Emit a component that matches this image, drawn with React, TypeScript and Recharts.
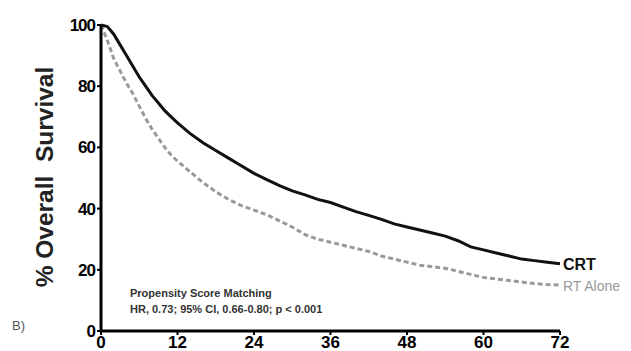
import React from 'react';
import { LineChart, Line, XAxis, YAxis, Customized } from 'recharts';

const months = [0, 1, 2, 3, 4, 5, 6, 7, 8, 9, 10, 11, 12, 14, 16, 18, 20, 22, 24, 26, 28, 30, 32, 34, 36, 38, 40, 42, 44, 46, 48, 50, 52, 54, 56, 58, 60, 62, 64, 66, 68, 70, 72];
const crt = [100, 99.5, 97, 93.5, 90, 86.5, 83, 80, 77, 74.5, 72, 70, 68, 64.5, 61.5, 59, 56.5, 54, 51.5, 49.5, 47.5, 45.8, 44.5, 43, 42, 40.5, 39, 37.8, 36.5, 35, 34, 33, 32, 31, 29.5, 27.5, 26.5, 25.5, 24.5, 23.5, 23, 22.5, 22];
const rtAlone = [100, 95, 89, 85, 81, 77.5, 73.5, 69.5, 66, 63, 60, 57.5, 55.5, 52, 48.5, 45.5, 43, 41, 39.5, 38, 36, 34, 31.5, 30, 29, 28, 27, 26, 24.5, 23.5, 22.5, 21.5, 21, 20.5, 19.5, 18.5, 17.5, 17, 16.5, 16, 15.5, 15.2, 15];
const xTicks = [0, 12, 24, 36, 48, 60, 72];
const yTicks = [0, 20, 40, 60, 80, 100];

const data = months.map((m, i) => ({ m, crt: crt[i], rt: rtAlone[i] }));

const font = '"Liberation Sans", Arial, sans-serif';

const endLabel = (text: string, color: string, size: number, weight: number) => (props: any) => {
  const { x, y, index } = props;
  if (index !== months.length - 1) return null;
  return (
    <text x={x + 3} y={y + 6} fill={color} fontSize={size} fontWeight={weight} fontFamily={font}>
      {text}
    </text>
  );
};

export default function App() {
  return (
    <div style={{ position: 'absolute', left: 0, top: 0, width: 631, height: 351, background: '#fff' }}>
      <LineChart width={631} height={351} data={data} margin={{ top: 25, right: 71, bottom: 0, left: 0 }}>
        <XAxis
          dataKey="m"
          type="number"
          domain={[0, 72]}
          ticks={xTicks}
          height={20}
          stroke="#000"
          axisLine={{ strokeWidth: 3 }}
          tickLine={{ strokeWidth: 2 }}
          tickSize={4}
          tick={{ fill: '#000', fontSize: 17, fontWeight: 700, fontFamily: font }}
          tickMargin={1}
        />
        <YAxis
          type="number"
          domain={[0, 100]}
          ticks={yTicks}
          width={101}
          stroke="#000"
          axisLine={{ strokeWidth: 3 }}
          tickLine={{ strokeWidth: 2 }}
          tickSize={4}
          tickMargin={2}
          tick={{ fill: '#000', fontSize: 17, fontWeight: 700, fontFamily: font, letterSpacing: -1 }}
        />
        <Line
          dataKey="rt"
          stroke="#9a9a9a"
          strokeWidth={3}
          strokeDasharray="5 3"
          dot={false}
          isAnimationActive={false}
          label={endLabel('RT Alone', '#9a9a9a', 14, 400)}
        />
        <Line
          dataKey="crt"
          stroke="#111"
          strokeWidth={3}
          dot={false}
          isAnimationActive={false}
          label={endLabel('CRT', '#111', 16, 700)}
        />
        <Customized
          component={() => (
            <g fontFamily={font}>
              <text
                x={53}
                y={177}
                transform="rotate(-90,53,177)"
                textAnchor="middle"
                fontSize={24.5}
                fontWeight={700}
                fill="#222"
                style={{ whiteSpace: 'pre' }}
              >
                % Overall  Survival
              </text>
              <text x={130} y={297} fontSize={11} fontWeight={700} fill="#333">Propensity Score Matching</text>
              <text x={130} y={313} fontSize={11} fontWeight={700} fill="#333">HR, 0.73; 95% CI, 0.66-0.80; p &lt; 0.001</text>
              <text x={12} y={330} fontSize={13} fill="#555">B)</text>
            </g>
          )}
        />
      </LineChart>
    </div>
  );
}
